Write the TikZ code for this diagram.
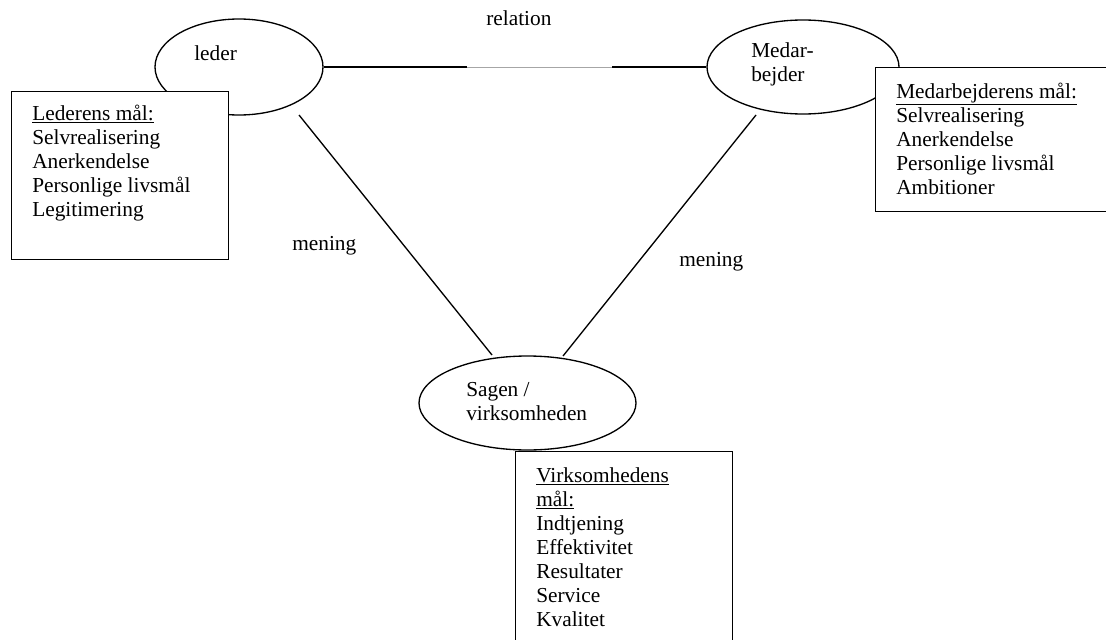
\documentclass[tikz,border=0pt]{standalone}
\usepackage{fontspec}
\setmainfont{Liberation Serif}
\usetikzlibrary{shapes.geometric}
\tikzset{
  lw/.style={line width=1pt},
  oval/.style={draw, lw, ellipse, inner sep=0pt},
  goalbox/.style={draw, lw, fill=white, rectangle, inner sep=0pt, anchor=north west},
  txt/.style={inner sep=0pt, anchor=base west, font=\fontsize{16}{18}\selectfont},
  link/.style={lw},
}
\newcommand{\lines}[1]{\begin{tabular}[t]{@{}l@{}}#1\end{tabular}}
\begin{document}
\begin{tikzpicture}[x=0.75pt,y=-0.75pt]
\useasboundingbox (0,0) rectangle (1106,639);
\clip (0,0) rectangle (1106,639);
% ellipses
\node[oval, minimum width=126pt, minimum height=72pt] (leder) at (239,67) {};
\node[oval, minimum width=144pt, minimum height=70.5pt] (med) at (803,67) {};
\node[oval, minimum width=162.75pt, minimum height=70.5pt] (sagen) at (527.5,403) {};
% connector coordinates
\coordinate (r1) at (467,67);
\coordinate (r2) at (612,67);
\coordinate (l1) at (299,115);
\coordinate (l2) at (492,355);
\coordinate (m1) at (756,115);
\coordinate (m2) at (563,356);
% connectors
\draw[link] (leder.east) -- (r1);
\draw[line width=0.7pt, gray!70] (r1) -- (r2);
\draw[link] (r2) -- (med.west);
\draw[link] (l1) -- (l2);
\draw[link] (m1) -- (m2);
% goal boxes
\node[goalbox, minimum width=162.75pt, minimum height=126pt] (lbox) at (11,91) {};
\node[goalbox, minimum width=180pt, minimum height=108pt] (mbox) at (875,67) {};
\node[goalbox, minimum width=162.75pt, minimum height=160pt] (vbox) at (515,451) {};
% texts
\node[txt] (tleder) at (194,60) {leder};
\node[txt] (tmed) at (751,57) {\lines{Medar-\\bejder}};
\node[txt] (tsagen) at (466,396) {\lines{Sagen /\\virksomheden}};
\node[txt] (trel) at (486,25) {relation};
\node[txt] (tmen1) at (292,250) {mening};
\node[txt] (tmen2) at (679,266) {mening};
\node[txt] (tlbox) at (32,120) {\lines{\underline{Lederens mål:}\\Selvrealisering\\Anerkendelse\\Personlige livsmål\\Legitimering}};
\node[txt] (tmbox) at (896,98) {\lines{\underline{Medarbejderens mål:}\\Selvrealisering\\Anerkendelse\\Personlige livsmål\\Ambitioner}};
\node[txt] (tvbox) at (536,482) {\lines{\underline{Virksomhedens}\\\underline{mål:}\\Indtjening\\Effektivitet\\Resultater\\Service\\Kvalitet}};
\end{tikzpicture}
\end{document}
